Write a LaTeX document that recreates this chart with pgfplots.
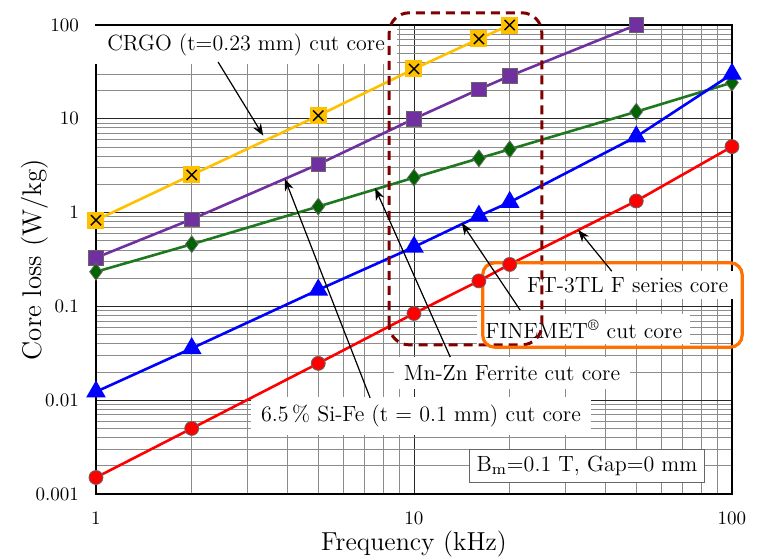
\documentclass[border=0pt]{standalone}
\usepackage{pgfplots}
\pgfplotsset{compat=1.18}
\usetikzlibrary{arrows.meta}
\definecolor{cyel}{RGB}{255,192,0}
\definecolor{cpur}{RGB}{112,48,160}
\definecolor{cgreenl}{RGB}{30,120,30}
\definecolor{cgreenf}{RGB}{0,100,0}
\definecolor{cblue}{RGB}{0,0,255}
\definecolor{cred}{RGB}{255,0,0}
\definecolor{cdred}{RGB}{128,0,0}
\definecolor{corange}{RGB}{255,112,0}
\pgfplotstableread{
x y
1 0.83
2 2.52
5 10.8
10 34
16 71
20 100
}\crgo
\pgfplotstableread{
x y
1 0.33
2 0.85
5 3.27
10 10
16 20.6
20 28.6
50 100
}\sife
\pgfplotstableread{
x y
1 0.234
2 0.46
5 1.16
10 2.36
16 3.79
20 4.73
50 11.9
100 24.3
}\ferrite
\pgfplotstableread{
x y
1 0.0123
2 0.0357
5 0.15
10 0.43
16 0.92
20 1.29
50 6.45
100 30
}\finemet
\pgfplotstableread{
x y
1 0.0015
2 0.005
5 0.0247
10 0.084
16 0.187
20 0.28
50 1.33
100 5.05
}\ftthree
\begin{document}
\begin{tikzpicture}
\begin{axis}[
  scale only axis, width=318pt, height=234.5pt,
  xmode=log, ymode=log,
  xmin=1, xmax=100, ymin=0.001, ymax=100,
  xtick={1,10,100}, xticklabels={1,10,100},
  ytick={0.001,0.01,0.1,1,10,100},
  yticklabels={0.001,0.01,0.1,1,10,100},
  minor xtick={2,3,4,5,6,7,8,9,20,30,40,50,60,70,80,90},
  minor ytick={0.002,0.003,0.004,0.005,0.006,0.007,0.008,0.009,
    0.02,0.03,0.04,0.05,0.06,0.07,0.08,0.09,
    0.2,0.3,0.4,0.5,0.6,0.7,0.8,0.9,
    2,3,4,5,6,7,8,9,20,30,40,50,60,70,80,90},
  grid=both,
  major grid style={black!85, line width=0.45pt},
  minor grid style={black!45, line width=0.4pt},
  major tick length=0pt, minor tick length=0pt,
  axis line style={black, line width=0.6pt},
  xticklabel style={yshift=-5.5pt, font=\fontsize{9.5}{11}\selectfont},
  yticklabel style={xshift=-5pt, font=\fontsize{9.5}{11}\selectfont},
  xlabel={Frequency (kHz)}, ylabel={Core loss (W/kg)},
  xlabel style={at={(axis description cs:0.5,-0.107)}, anchor=center, font=\fontsize{13}{15}\selectfont},
  ylabel style={at={(axis description cs:-0.097,0.5)}, anchor=center, rotate=0, font=\fontsize{13.5}{15}\selectfont},
  clip=false,
]
\coordinate (bl) at (rel axis cs:0,0);
\coordinate (tr) at (rel axis cs:1,1);
% label boxes
\node[fill=white, inner xsep=6pt, inner ysep=4pt, anchor=center, font=\fontsize{11}{13}\selectfont]
  at (rel axis cs:0.236,0.957) {CRGO (t=0.23 mm) cut core};
\node[fill=white, inner xsep=5pt, inner ysep=4pt, anchor=center, font=\fontsize{11}{13}\selectfont]
  at (rel axis cs:0.511,0.166) {6.5\,\% Si-Fe (t = 0.1 mm) cut core};
\node[fill=white, inner xsep=5pt, inner ysep=4pt, anchor=center, font=\fontsize{11}{13}\selectfont]
  at (rel axis cs:0.654,0.258) {Mn-Zn Ferrite cut core};
\node[fill=white, inner xsep=4pt, inner ysep=3pt, anchor=center, font=\fontsize{11}{13}\selectfont]
  at (rel axis cs:0.767,0.352) {FINEMET\textsuperscript{®} cut core};
\node[fill=white, inner xsep=4pt, inner ysep=3pt, anchor=center, font=\fontsize{11}{13}\selectfont]
  at (rel axis cs:0.836,0.446) {FT-3TL F series core};
\node[fill=white, draw=black!60, line width=0.5pt, minimum width=112pt, minimum height=16pt, anchor=center, font=\fontsize{11}{13}\selectfont]
  at (rel axis cs:0.772,0.060) {B$_{\mathrm{m}}$=0.1 T, Gap=0 mm};
% data
\addplot[cyel, line width=1.3pt, mark=square*, mark size=3.6pt, mark options={fill=cyel, draw=cyel}] table {\crgo};
\addplot[draw=none, mark=x, mark size=3.6pt, mark options={black, line width=0.7pt}] table {\crgo};
\addplot[cpur, line width=1.3pt, mark=square*, mark size=3.6pt, mark options={fill=cpur, draw=black!60, line width=0.4pt}] table {\sife};
\addplot[cgreenl, line width=1.3pt, mark=diamond*, mark size=4.2pt, mark options={fill=cgreenf, draw=black!60, line width=0.4pt}] table {\ferrite};
\addplot[cblue, line width=1.3pt, mark=triangle*, mark size=4.4pt, mark options={fill=cblue, draw=cblue}] table {\finemet};
\addplot[cred, line width=1.3pt, mark=*, mark size=3.5pt, mark options={fill=cred, draw=black!60, line width=0.4pt}] table {\ftthree};
% dashed and orange boxes
\draw[cdred, line width=1.5pt, dash pattern=on 4.5pt off 3pt, rounded corners=10pt]
  (rel axis cs:0.461,0.318) rectangle (rel axis cs:0.701,1.026);
\draw[corange, line width=1.6pt, rounded corners=6pt]
  (rel axis cs:0.608,0.313) rectangle (rel axis cs:1.016,0.493);
% arrows
\begin{scope}[line width=0.6pt, -{Stealth[length=6pt,width=4.5pt]}]
\draw (rel axis cs:0.192,0.921) -- (rel axis cs:0.263,0.764);
\draw (rel axis cs:0.431,0.205) -- (rel axis cs:0.297,0.672);
\draw (rel axis cs:0.557,0.292) -- (rel axis cs:0.439,0.652);
\draw (rel axis cs:0.667,0.392) -- (rel axis cs:0.575,0.578);
\draw (rel axis cs:0.811,0.475) -- (rel axis cs:0.758,0.563);
\end{scope}
\end{axis}
\pgfresetboundingbox
\path[use as bounding box] ([xshift=-48pt,yshift=-31.5pt]bl) rectangle ([xshift=14pt,yshift=12.5pt]tr);
\end{tikzpicture}
\end{document}
